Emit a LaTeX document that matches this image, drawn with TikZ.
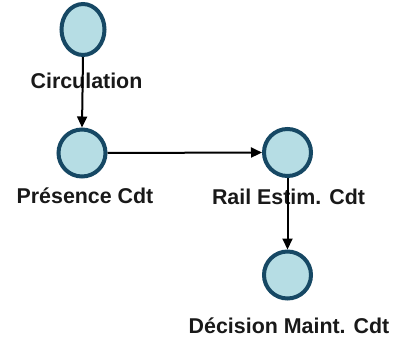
\documentclass[tikz,border=0pt]{standalone}
\usepackage{fontspec}
\setmainfont{Liberation Sans}
\usetikzlibrary{shapes.geometric,arrows.meta}
\definecolor{nodefill}{RGB}{182,221,228}
\definecolor{nodeline}{RGB}{22,72,100}
\begin{document}
\begin{tikzpicture}[x=1pt,y=-1pt,
  state/.style={ellipse,draw=nodeline,fill=nodefill,line width=4pt,inner sep=0pt,minimum width=47pt,minimum height=47pt},
  lbl/.style={inner sep=0pt,font=\fontsize{21.4}{26}\selectfont\bfseries,anchor=center,text=black!90},
  conn/.style={line width=2pt,-{Triangle[length=11pt,width=10pt]}}]
\useasboundingbox (0,0) rectangle (393,339);
\node[state,minimum width=43pt,minimum height=51pt] (c) at (83,29.5) {};
\node[state] (p) at (82,153) {};
\node[state] (r) at (287.5,152.5) {};
\node[state] (d) at (287.5,275) {};
\node[lbl] (lc) at (86.5,81) {Circulation};
\node[lbl] (lp) at (85,196) {Présence Cdt};
\node[lbl] (lr) at (288.5,197) {Rail Estim. Cdt};
\node[lbl] (ld) at (289,326) {Décision Maint. Cdt};
\draw[conn] (c.south) -- (p.north);
\draw[conn] (p.east) -- (r.west);
\draw[conn] (r.south) -- (d.north);
\end{tikzpicture}
\end{document}
